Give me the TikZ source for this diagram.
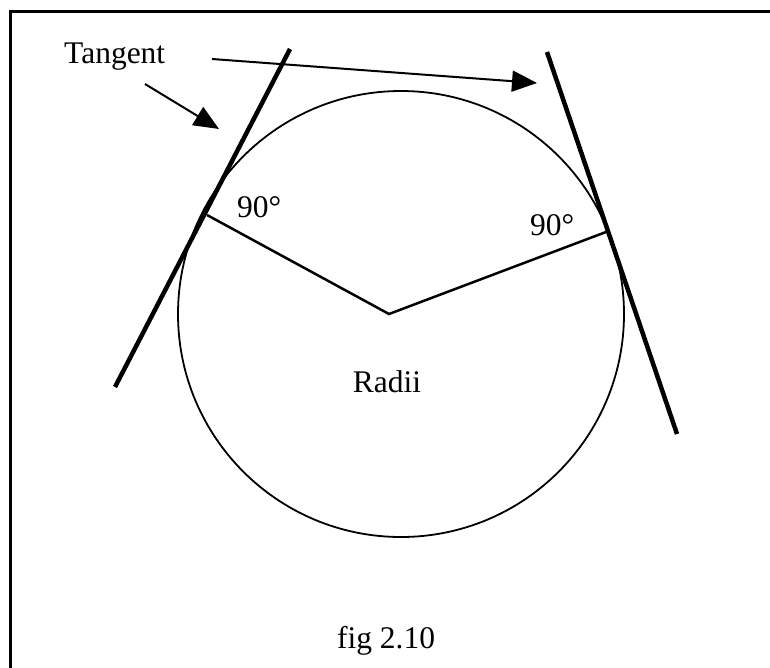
\documentclass[tikz,border=0pt]{standalone}
\usepackage{fontspec}
\setmainfont{Liberation Serif}
\usetikzlibrary{arrows.meta}
\begin{document}
\begin{tikzpicture}[x=1pt,y=-1pt,
  lbl/.style={inner sep=0pt, font=\fontsize{31.5}{38}\selectfont},
  tangentline/.style={line width=4.5pt},
  radline/.style={line width=2.5pt},
  pointer/.style={line width=2pt, -{Triangle[length=25pt,width=21pt]}}]
\useasboundingbox (0,0) rectangle (770,667);
% frame (only top and left visible)
\coordinate (fbl) at (10,690);
\coordinate (ftl) at (10,11);
\coordinate (ftr) at (790,11);
\draw[line width=3pt] (fbl) -- (ftl) -- (ftr);
% circle
\coordinate (c) at (401,314);
\draw[line width=1.8pt] (c) circle[radius=223pt];
% radii
\coordinate (o) at (389,314);
\coordinate (pl) at (207,215);
\coordinate (pr) at (606,232);
\draw[radline] (pl) -- (o) -- (pr);
% tangents
\coordinate (tl1) at (115,387);
\coordinate (tl2) at (290,49);
\coordinate (tr1) at (547,52);
\coordinate (tr2) at (677,434);
\draw[tangentline] (tl1) -- (tl2);
\draw[tangentline] (tr1) -- (tr2);
% labels
\node[lbl, anchor=base west] (tan) at (64,63) {Tangent};
\node[lbl, anchor=base west] (al) at (237,217) {90°};
\node[lbl, anchor=base west] (ar) at (530,235) {90°};
\node[lbl, anchor=base] (radii) at (387,392) {Radii};
\node[lbl, anchor=base] (fig) at (386,648) {fig 2.10};
% pointer arrows
\coordinate (a1s) at (145,84);
\coordinate (a1e) at (219,129);
\coordinate (a2s) at (212,59);
\coordinate (a2e) at (537,83);
\draw[pointer] (a1s) -- (a1e);
\draw[pointer] (a2s) -- (a2e);
\end{tikzpicture}
\end{document}
